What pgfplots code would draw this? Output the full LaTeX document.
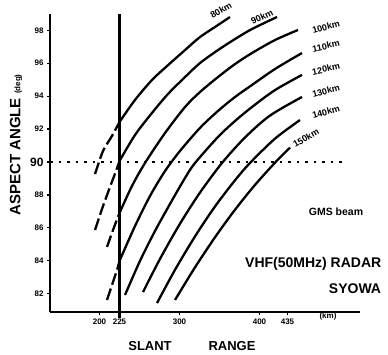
\documentclass[border=0pt]{standalone}
\usepackage{fontspec}
\setmainfont{Liberation Sans}
\usepackage{pgfplots}
\pgfplotsset{compat=1.18}
\begin{document}
\begin{tikzpicture}
\path[use as bounding box] (0pt,0pt) rectangle (388pt,354pt);
\begin{axis}[
  at={(50pt,42pt)}, anchor=south west,
  scale only axis, width=310pt, height=298pt,
  xmin=138.125, xmax=525.625, ymin=80.887, ymax=98.991,
  axis lines=left, axis line style={-, line width=2pt},
  clip=false,
  xtick={200,225,300,400,435},
  xticklabels={200,225,300,400,435},
  ytick={82,84,86,88,90,92,94,96,98},
  yticklabels={82,84,86,88,{\fontsize{12}{12}\selectfont 90},92,94,96,98},
  tick label style={font=\fontsize{8}{8}\selectfont\bfseries},
  /pgf/number format/assume math mode=true,
  major tick length=3pt, tick align=outside, tick style={line width=1.2pt, black},
  every axis plot/.append style={line width=2.3pt, black},
  mydash/.style={dash pattern=on 12pt off 4pt},
]
% reference lines
\addplot[line width=2.5pt] coordinates {(225,98.99) (225,80.55)};
\addplot[line width=2.2pt, dash pattern=on 2.5pt off 6pt] coordinates {(138.125,90) (506.9,90)};
% 80 km
\addplot[mydash, smooth] coordinates {(194.4,89.27) (204.4,90.67) (215.6,91.58) (225,92.43)};
\addplot[smooth] coordinates {(225,92.43) (244.4,93.77) (265.6,94.98) (284.4,95.83) (306.9,96.80) (325.6,97.59) (348.1,98.32) (363.1,98.81)};
% 90 km
\addplot[mydash, smooth] coordinates {(194.4,85.87) (203.1,87.14) (213.1,88.48) (220.6,89.45) (225,90.06)};
\addplot[smooth] coordinates {(225,90.06) (244.4,91.64) (265.6,92.98) (285.6,94.13) (306.9,95.16) (325.6,96.01) (348.1,96.80) (369.4,97.47) (390.6,98.08) (421.9,98.81)};
% 100 km
\addplot[mydash, smooth] coordinates {(209.4,84.84) (216.9,85.87) (225,86.90)};
\addplot[smooth] coordinates {(225,86.90) (240.6,88.54) (256.9,89.94) (281.9,91.76) (306.9,93.34) (325.6,94.25) (348.1,95.16) (369.4,95.95) (390.6,96.62) (419.4,97.41) (448.1,98.02)};
% 110 km
\addplot[mydash, smooth] coordinates {(209.4,81.62) (215.6,82.53) (221.9,83.44) (225,83.99)};
\addplot[smooth] coordinates {(225,83.99) (244.4,86.11) (263.1,87.93) (281.9,89.45) (300.6,90.67) (325.6,92.07) (348.1,93.10) (369.4,93.95) (390.6,94.68) (419.4,95.65) (453.1,96.62)};
% 120 km
\addplot[smooth] coordinates {(231.9,81.92) (250.6,83.99) (269.4,85.81) (288.1,87.45) (306.9,89.03) (319.4,89.94) (348.1,91.52) (369.4,92.49) (390.6,93.34) (419.4,94.37) (453.1,95.29)};
% 130 km
\addplot[smooth] coordinates {(254.4,82.10) (275.6,84.11) (300.6,86.25) (325.6,88.14) (353.1,89.94) (381.9,91.49) (413.1,92.82) (453.1,93.95)};
% 140 km
\addplot[smooth] coordinates {(271.9,81.43) (294.4,83.45) (319.4,85.48) (344.4,87.30) (369.4,88.89) (388.1,89.94) (419.4,91.42) (450.6,92.55)};
% 150 km
\addplot[smooth] coordinates {(294.4,81.62) (319.4,83.60) (344.4,85.43) (369.4,87.10) (394.4,88.61) (421.9,90.09) (438.1,90.87)};
\end{axis}
% curve labels
\begin{scope}[every node/.style={font=\fontsize{9}{9}\selectfont\bfseries, inner sep=0pt}]
\node[rotate=30] at (221pt,344pt) {80km};
\node[rotate=25] at (262pt,337pt) {90km};
\node[rotate=15] at (326pt,327pt) {100km};
\node[rotate=12] at (326pt,308pt) {110km};
\node[rotate=12] at (326pt,285pt) {120km};
\node[rotate=15] at (326pt,263pt) {130km};
\node[rotate=15] at (326pt,242pt) {140km};
\node[rotate=30] at (306pt,216pt) {150km};
\end{scope}
\node[font=\fontsize{8}{8}\selectfont\bfseries] at (328pt,38pt) {(km)};
\node[font=\fontsize{10.5}{10.5}\selectfont\bfseries] at (336pt,142pt) {GMS beam};
\node[font=\fontsize{14}{14}\selectfont\bfseries, anchor=west, inner sep=0pt] at (245pt,90pt) {VHF(50MHz) RADAR};
\node[font=\fontsize{14}{14}\selectfont\bfseries] at (355pt,65pt) {SYOWA};
\node[font=\fontsize{13}{13}\selectfont\bfseries] at (150pt,8pt) {SLANT};
\node[font=\fontsize{13}{13}\selectfont\bfseries] at (232pt,8pt) {RANGE};
\node[rotate=90, font=\fontsize{15}{15}\selectfont\bfseries] at (16pt,209pt) {ASPECT ANGLE {\fontsize{8}{8}\selectfont (deg)}};
\end{tikzpicture}
\end{document}
